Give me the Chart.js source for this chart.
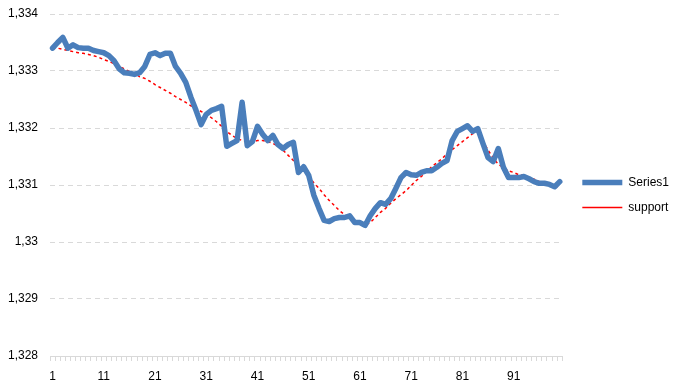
<!DOCTYPE html>
<html><head><meta charset="utf-8">
<script src="https://cdn.jsdelivr.net/npm/chart.js@4/dist/chart.umd.min.js"></script>
<style>html,body{margin:0;padding:0;background:#fff}</style></head>
<body>
<canvas id="c" width="680" height="390"></canvas>
<script>
const categories = Array.from({length: 100}, (_, i) => String(i + 1));
const series1 = [
1.33340,1.33350,1.33359,1.33340,1.33346,1.33341,1.33340,1.33340,1.33336,1.33334,
1.33332,1.33327,1.33318,1.33304,1.33297,1.33296,1.33294,1.33297,1.33308,1.33329,
1.33332,1.33327,1.33331,1.33331,1.33308,1.33296,1.33280,1.33254,1.33231,1.33206,
1.33224,1.33231,1.33234,1.33238,1.33168,1.33173,1.33178,1.33245,1.33169,1.33176,
1.33203,1.33189,1.33178,1.33187,1.33171,1.33164,1.33171,1.33175,1.33122,1.33132,
1.33117,1.33082,1.33059,1.33038,1.33036,1.33041,1.33043,1.33043,1.33046,1.33034,
1.33034,1.33029,1.33046,1.33059,1.33069,1.33066,1.33076,1.33094,1.33113,1.33122,
1.33118,1.33117,1.33122,1.33125,1.33125,1.33131,1.33138,1.33143,1.33178,1.33194,
1.33199,1.33204,1.33194,1.33199,1.33173,1.33148,1.33141,1.33164,1.33131,1.33113,
1.33113,1.33113,1.33115,1.33111,1.33106,1.33103,1.33103,1.33101,1.33097,1.33106];
const support = [
1.33341,1.33340,1.33338,1.33336,1.33334,1.33332,1.33331,1.33329,1.33327,1.33324,
1.33320,1.33317,1.33313,1.33308,1.33304,1.33299,1.33296,1.33290,1.33287,1.33282,
1.33276,1.33271,1.33266,1.33261,1.33255,1.33250,1.33245,1.33239,1.33234,1.33229,
1.33224,1.33218,1.33211,1.33203,1.33194,1.33187,1.33182,1.33178,1.33176,1.33176,
1.33178,1.33178,1.33176,1.33173,1.33168,1.33161,1.33152,1.33143,1.33134,1.33125,
1.33115,1.33104,1.33094,1.33083,1.33073,1.33064,1.33055,1.33048,1.33043,1.33038,
1.33032,1.33029,1.33034,1.33043,1.33052,1.33059,1.33068,1.33076,1.33083,1.33090,
1.33099,1.33108,1.33115,1.33124,1.33132,1.33139,1.33146,1.33155,1.33162,1.33169,
1.33176,1.33183,1.33190,1.33194,1.33178,1.33161,1.33148,1.33136,1.33131,1.33125,
1.33122,1.33118,1.33117,1.33113,1.33110,1.33106,1.33104,1.33103,1.33099,1.33096];
const yMin = 1.328, yMax = 1.334, yStep = 0.001;
const xLabelEvery = 10;

const fmt = v => String(Math.round(v * 1000) / 1000).replace('.', ',');
const FONT = {family: 'Liberation Sans', size: 12};

const legendShift = {
  id: 'legendShift',
  afterLayout(chart) {
    const lg = chart.legend;
    if (lg) { lg.left += 7; lg.right += 7; lg.top -= 7; lg.bottom -= 7; }
  }
};

new Chart(document.getElementById('c'), {
  type: 'line',
  data: {
    labels: categories,
    datasets: [
      {label: 'Series1', data: series1, borderColor: '#4a7ebb', backgroundColor: '#4a7ebb',
       borderWidth: 5.5, borderCapStyle: 'round', borderJoinStyle: 'round',
       pointRadius: 0, pointHoverRadius: 0, tension: 0, fill: false},
      {label: 'support', data: support, borderColor: '#ff0000', backgroundColor: '#ff0000',
       borderWidth: 1.5, borderDash: [3, 3], pointRadius: 0, pointHoverRadius: 0, tension: 0, fill: false}
    ]
  },
  options: {
    responsive: false,
    animation: false,
    devicePixelRatio: 1,
    layout: {padding: {top: 14, right: 8, left: 0, bottom: 0}},
    plugins: {
      tooltip: {enabled: false},
      legend: {
        position: 'right', align: 'center',
        labels: {usePointStyle: true, pointStyle: 'line', pointStyleWidth: 40,
                 padding: 13, color: '#000', font: FONT}
      }
    },
    scales: {
      x: {
        type: 'category', offset: true,
        grid: {display: true, drawOnChartArea: false, drawTicks: true, tickLength: 5,
               color: '#d9d9d9', offset: true},
        border: {display: true, color: '#d9d9d9'},
        ticks: {autoSkip: false, maxRotation: 0, minRotation: 0, padding: 8, color: '#000', font: FONT,
                callback: (v, i) => (i % xLabelEvery === 0 ? categories[i] : '')},
        afterFit: s => { s.height = 34; }
      },
      y: {
        min: yMin, max: yMax,
        grid: {color: '#d9d9d9', drawTicks: true, tickLength: 12, tickColor: 'rgba(0,0,0,0)'},
        border: {display: false, dash: [5, 4]},
        ticks: {stepSize: yStep, padding: 0, color: '#000', font: FONT, callback: v => fmt(v)},
        afterFit: s => { s.width = 50; }
      }
    }
  },
  plugins: [legendShift]
});
</script>
</body></html>
